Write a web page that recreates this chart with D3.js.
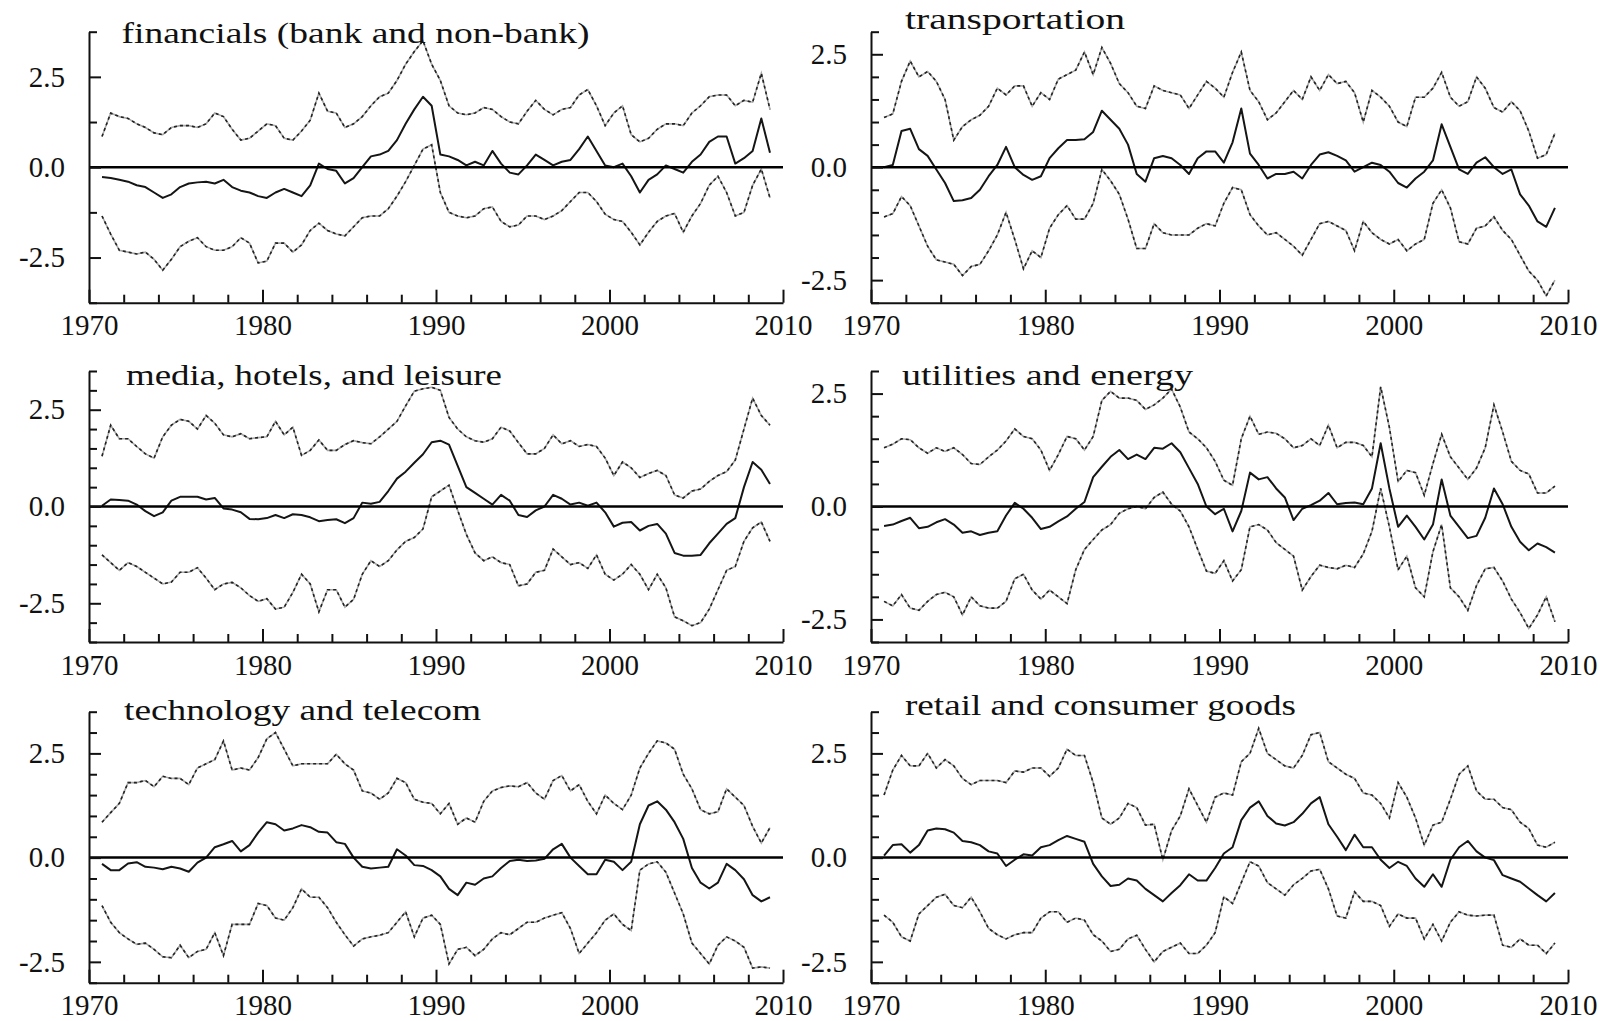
<!DOCTYPE html>
<html>
<head>
<meta charset="utf-8">
<script src="https://cdn.jsdelivr.net/npm/d3@7"></script>
<style>
  body { margin: 0; background: #fff; }
  svg { display: block; }
</style>
</head>
<body>
<div id="chart"></div>
<script>
// half-year grid, 1970.75 .. 2009.25 (78 points)
let years = d3.range(78).map(i => 1970.75 + i * 0.5)

let titles = [
  "financials (bank and non-bank)",
  "transportation",
  "media, hotels, and leisure",
  "utilities and energy",
  "technology and telecom",
  "retail and consumer goods"
]

// financials
let finMid = [
  -0.27, -0.3, -0.35, -0.4, -0.5, -0.55, -0.7, -0.85, -0.75, -0.55,
  -0.45, -0.42, -0.4, -0.45, -0.35, -0.55, -0.65, -0.7, -0.8, -0.85,
  -0.7, -0.6, -0.7, -0.8, -0.5, 0.1, -0.05, -0.1, -0.45, -0.3,
  0.0, 0.3, 0.35, 0.45, 0.75, 1.2, 1.6, 1.95, 1.7, 0.35,
  0.3, 0.2, 0.05, 0.15, 0.05, 0.45, 0.1, -0.15, -0.2, 0.05,
  0.35, 0.2, 0.05, 0.15, 0.2, 0.5, 0.85, 0.45, 0.05, 0.0,
  0.1, -0.25, -0.7, -0.35, -0.2, 0.05, -0.05, -0.15, 0.15, 0.35,
  0.7, 0.85, 0.85, 0.1, 0.25, 0.45, 1.35, 0.4]
let finUp = [
  0.85, 1.5, 1.4, 1.35, 1.2, 1.1, 0.95, 0.9, 1.1, 1.15,
  1.15, 1.1, 1.2, 1.5, 1.4, 1.05, 0.75, 0.8, 1.0, 1.2,
  1.15, 0.8, 0.75, 1.0, 1.3, 2.05, 1.55, 1.5, 1.1, 1.2,
  1.4, 1.7, 1.95, 2.05, 2.4, 2.85, 3.2, 3.5, 2.85, 2.4,
  1.7, 1.5, 1.45, 1.5, 1.65, 1.6, 1.4, 1.25, 1.2, 1.55,
  1.85, 1.6, 1.45, 1.6, 1.65, 2.0, 2.15, 1.7, 1.15, 1.5,
  1.7, 0.9, 0.7, 0.8, 1.05, 1.2, 1.2, 1.15, 1.5, 1.7,
  1.95, 2.0, 2.0, 1.7, 1.85, 1.8, 2.6, 1.6]
let finLow = [
  -1.35, -1.85, -2.3, -2.35, -2.4, -2.35, -2.55, -2.85, -2.55, -2.2,
  -2.05, -1.95, -2.2, -2.3, -2.3, -2.2, -1.95, -2.1, -2.65, -2.6,
  -2.1, -2.1, -2.35, -2.15, -1.75, -1.55, -1.75, -1.85, -1.9, -1.65,
  -1.4, -1.35, -1.35, -1.15, -0.8, -0.4, 0.05, 0.5, 0.62, -0.7,
  -1.25, -1.35, -1.4, -1.35, -1.15, -1.1, -1.5, -1.65, -1.6, -1.35,
  -1.35, -1.45, -1.35, -1.2, -0.95, -0.7, -0.7, -0.95, -1.3, -1.45,
  -1.5, -1.8, -2.15, -1.8, -1.5, -1.35, -1.28, -1.8, -1.35, -1.0,
  -0.5, -0.25, -0.7, -1.35, -1.25, -0.5, -0.05, -0.85]

// transportation
let traMid = [
  0.0, 0.05, 0.8, 0.85, 0.4, 0.25, -0.05, -0.35, -0.75, -0.73,
  -0.68, -0.5, -0.2, 0.05, 0.45, 0.0, -0.17, -0.28, -0.2, 0.2,
  0.42, 0.6, 0.6, 0.62, 0.78, 1.25, 1.05, 0.85, 0.5, -0.15,
  -0.32, 0.2, 0.25, 0.2, 0.05, -0.15, 0.2, 0.35, 0.35, 0.1,
  0.55, 1.3, 0.3, 0.05, -0.25, -0.15, -0.15, -0.1, -0.25, 0.05,
  0.28, 0.33, 0.25, 0.15, -0.1, 0.0, 0.1, 0.05, -0.1, -0.35,
  -0.45, -0.25, -0.1, 0.15, 0.95, 0.45, -0.05, -0.15, 0.1, 0.22,
  0.0, -0.15, -0.05, -0.6, -0.85, -1.2, -1.32, -0.9]
let traUp = [
  1.1, 1.18, 1.9, 2.35, 2.0, 2.12, 1.9, 1.5, 0.6, 0.9,
  1.05, 1.15, 1.35, 1.75, 1.6, 1.8, 1.8, 1.35, 1.65, 1.5,
  1.95, 2.05, 2.15, 2.55, 2.05, 2.65, 2.3, 1.85, 1.65, 1.35,
  1.3, 1.8, 1.7, 1.65, 1.6, 1.3, 1.6, 1.9, 1.75, 1.55,
  2.1, 2.55, 1.7, 1.45, 1.05, 1.2, 1.45, 1.7, 1.5, 2.0,
  1.7, 2.05, 1.85, 1.9, 1.65, 1.0, 1.7, 1.55, 1.35, 1.0,
  0.9, 1.55, 1.55, 1.75, 2.1, 1.55, 1.35, 1.45, 2.0, 1.75,
  1.32, 1.22, 1.45, 1.25, 0.8, 0.2, 0.28, 0.75]
let traLow = [
  -1.1, -1.03, -0.65, -0.85, -1.3, -1.75, -2.05, -2.1, -2.15, -2.4,
  -2.2, -2.15, -1.85, -1.5, -1.0, -1.6, -2.25, -1.85, -2.0, -1.35,
  -1.05, -0.85, -1.15, -1.15, -0.8, -0.05, -0.3, -0.6, -1.15, -1.8,
  -1.8, -1.25, -1.45, -1.5, -1.5, -1.5, -1.35, -1.25, -1.3, -0.8,
  -0.45, -0.5, -1.05, -1.3, -1.5, -1.45, -1.6, -1.75, -1.95, -1.6,
  -1.25, -1.2, -1.3, -1.4, -1.85, -1.2, -1.45, -1.6, -1.7, -1.6,
  -1.85, -1.7, -1.6, -0.8, -0.5, -0.9, -1.65, -1.7, -1.35, -1.3,
  -1.1, -1.4, -1.6, -1.95, -2.3, -2.5, -2.85, -2.5]

// media, hotels, and leisure
let medMid = [
  0.02, 0.18, 0.17, 0.15, 0.05, -0.12, -0.25, -0.15, 0.15, 0.25,
  0.25, 0.25, 0.18, 0.22, -0.05, -0.08, -0.15, -0.32, -0.33, -0.3,
  -0.22, -0.3, -0.2, -0.22, -0.28, -0.38, -0.35, -0.33, -0.43, -0.3,
  0.1, 0.07, 0.12, 0.4, 0.72, 0.9, 1.13, 1.35, 1.66, 1.7,
  1.6, 1.05, 0.5, 0.35, 0.2, 0.05, 0.3, 0.15, -0.22, -0.27,
  -0.1, 0.0, 0.3, 0.2, 0.05, 0.1, 0.02, 0.1, -0.15, -0.52,
  -0.42, -0.4, -0.62, -0.5, -0.45, -0.7, -1.2, -1.27, -1.27, -1.25,
  -0.95, -0.7, -0.45, -0.3, 0.5, 1.15, 0.95, 0.58]
let medUp = [
  1.3, 2.1, 1.75, 1.75, 1.55, 1.36, 1.25, 1.8, 2.1, 2.25,
  2.2, 2.0, 2.35, 2.15, 1.85, 1.8, 1.88, 1.75, 1.78, 1.8,
  2.2, 1.85, 2.05, 1.32, 1.45, 1.72, 1.45, 1.45, 1.6, 1.7,
  1.65, 1.62, 1.8, 2.0, 2.2, 2.6, 2.98, 3.04, 3.08, 3.0,
  2.3, 2.0, 1.8, 1.7, 1.66, 1.75, 2.05, 1.95, 1.65, 1.36,
  1.36, 1.5, 1.85, 1.62, 1.7, 1.55, 1.6, 1.55, 1.25, 0.8,
  1.15, 1.0, 0.75, 0.85, 0.93, 0.8, 0.3, 0.22, 0.4, 0.45,
  0.65, 0.8, 0.9, 1.2, 2.0, 2.8, 2.35, 2.1]
let medLow = [
  -1.25, -1.45, -1.65, -1.45, -1.55, -1.7, -1.85, -2.0, -1.95, -1.7,
  -1.7, -1.58, -1.85, -2.15, -2.0, -1.96, -2.1, -2.3, -2.45, -2.38,
  -2.65, -2.6, -2.22, -1.75, -2.0, -2.72, -2.15, -2.15, -2.6, -2.4,
  -1.75, -1.4, -1.55, -1.4, -1.12, -0.9, -0.8, -0.58, 0.25, 0.4,
  0.55, -0.1, -0.72, -1.2, -1.4, -1.3, -1.45, -1.5, -2.05, -2.0,
  -1.7, -1.65, -1.1, -1.3, -1.5, -1.45, -1.6, -1.25, -1.75, -1.9,
  -1.75, -1.5, -1.75, -2.15, -1.75, -2.1, -2.85, -2.95, -3.08, -3.0,
  -2.65, -2.15, -1.65, -1.55, -0.9, -0.55, -0.4, -0.9]

// utilities and energy
let utiMid = [
  -0.43, -0.4, -0.32, -0.25, -0.48, -0.45, -0.35, -0.28, -0.4, -0.58,
  -0.55, -0.63, -0.58, -0.55, -0.2, 0.08, -0.05, -0.25, -0.5, -0.45,
  -0.33, -0.22, -0.05, 0.1, 0.65, 0.88, 1.1, 1.25, 1.05, 1.15,
  1.05, 1.3, 1.28, 1.4, 1.2, 0.85, 0.5, 0.0, -0.17, -0.05,
  -0.55, -0.1, 0.75, 0.6, 0.65, 0.4, 0.2, -0.3, -0.05, 0.03,
  0.13, 0.3, 0.05, 0.08, 0.09, 0.05, 0.4, 1.4, 0.4, -0.45,
  -0.2, -0.45, -0.73, -0.4, 0.6, -0.2, -0.45, -0.7, -0.65, -0.25,
  0.4, 0.05, -0.45, -0.78, -0.97, -0.82, -0.9, -1.02]
let utiUp = [
  1.3, 1.38, 1.5, 1.48, 1.3, 1.18, 1.3, 1.22, 1.3, 1.15,
  0.95, 0.93, 1.1, 1.25, 1.45, 1.72, 1.55, 1.5, 1.25, 0.8,
  1.15, 1.55, 1.5, 1.25, 1.55, 2.35, 2.55, 2.4, 2.4, 2.35,
  2.15, 2.25, 2.4, 2.6, 2.2, 1.65, 1.5, 1.3, 1.0, 0.58,
  0.47, 1.5, 2.0, 1.6, 1.65, 1.62, 1.5, 1.3, 1.35, 1.5,
  1.35, 1.8, 1.3, 1.42, 1.42, 1.35, 1.1, 2.65, 1.75, 0.55,
  0.8, 0.75, 0.25, 0.95, 1.6, 1.1, 0.85, 0.6, 0.85, 1.3,
  2.25, 1.65, 1.0, 0.8, 0.72, 0.3, 0.3, 0.45]
let utiLow = [
  -2.1, -2.2, -1.95, -2.25, -2.3, -2.1, -1.95, -1.9, -2.0, -2.4,
  -2.0, -2.2, -2.25, -2.25, -2.1, -1.6, -1.5, -1.85, -2.05, -1.85,
  -2.0, -2.15, -1.4, -0.95, -0.73, -0.52, -0.4, -0.15, -0.05, 0.0,
  -0.05, 0.2, 0.32, 0.05, -0.1, -0.45, -0.95, -1.43, -1.48, -1.2,
  -1.65, -1.4, -0.45, -0.4, -0.52, -0.8, -0.95, -1.1, -1.85, -1.55,
  -1.3, -1.35, -1.38, -1.3, -1.35, -1.05, -0.55, 0.4, -0.45, -1.4,
  -1.1, -1.8, -2.0, -1.0, -0.4, -1.8, -2.0, -2.3, -1.75, -1.38,
  -1.35, -1.65, -2.05, -2.35, -2.7, -2.4, -2.0, -2.55]

// technology and telecom
let tecMid = [
  -0.15, -0.3, -0.3, -0.14, -0.11, -0.22, -0.24, -0.28, -0.22, -0.26,
  -0.34, -0.12, 0.0, 0.25, 0.32, 0.4, 0.15, 0.3, 0.6, 0.85,
  0.8, 0.65, 0.7, 0.78, 0.73, 0.62, 0.6, 0.37, 0.33, 0.0,
  -0.22, -0.26, -0.24, -0.22, 0.2, 0.05, -0.18, -0.2, -0.3, -0.45,
  -0.75, -0.9, -0.6, -0.65, -0.5, -0.45, -0.25, -0.08, -0.05, -0.08,
  -0.07, -0.03, 0.2, 0.33, 0.0, -0.2, -0.4, -0.4, -0.05, -0.1,
  -0.3, -0.1, 0.8, 1.25, 1.35, 1.15, 0.85, 0.45, -0.25, -0.6,
  -0.74, -0.6, -0.15, -0.3, -0.52, -0.9, -1.05, -0.95]
let tecUp = [
  0.85, 1.08, 1.3, 1.8, 1.8, 1.85, 1.7, 1.95, 1.9, 1.9,
  1.75, 2.15, 2.25, 2.35, 2.8, 2.1, 2.15, 2.1, 2.4, 2.85,
  3.0, 2.6, 2.2, 2.25, 2.25, 2.25, 2.25, 2.48, 2.25, 2.1,
  1.6, 1.55, 1.4, 1.55, 1.9, 1.8, 1.4, 1.33, 1.3, 1.05,
  1.3, 0.8, 0.95, 0.85, 1.35, 1.6, 1.68, 1.72, 1.7, 1.8,
  1.55, 1.4, 1.85, 1.97, 1.6, 1.75, 1.35, 1.05, 1.5, 1.3,
  1.15, 1.5, 2.15, 2.5, 2.8, 2.75, 2.6, 2.0, 1.65, 1.15,
  1.05, 1.1, 1.65, 1.45, 1.25, 0.75, 0.35, 0.72]
let tecLow = [
  -1.15, -1.55, -1.8, -1.95, -2.08, -2.05, -2.2, -2.38, -2.4, -2.1,
  -2.4, -2.25, -2.2, -1.8, -2.35, -1.6, -1.6, -1.6, -1.1, -1.15,
  -1.45, -1.5, -1.2, -0.75, -0.95, -0.95, -1.2, -1.55, -1.85, -2.12,
  -1.95, -1.9, -1.86, -1.8, -1.55, -1.3, -1.9, -1.45, -1.38, -1.6,
  -2.55, -2.2, -2.15, -2.35, -2.2, -1.95, -1.8, -1.85, -1.7, -1.55,
  -1.55, -1.45, -1.38, -1.32, -1.7, -2.3, -2.05, -1.8, -1.5, -1.35,
  -1.6, -1.75, -0.3, -0.15, -0.1, -0.35, -0.85, -1.35, -2.05, -2.3,
  -2.55, -2.1, -1.9, -2.0, -2.15, -2.65, -2.62, -2.65]

// retail and consumer goods
let retMid = [
  0.05, 0.3, 0.32, 0.12, 0.3, 0.65, 0.7, 0.68, 0.6, 0.4,
  0.37, 0.3, 0.15, 0.1, -0.2, -0.05, 0.08, 0.05, 0.25, 0.3,
  0.42, 0.52, 0.45, 0.38, -0.15, -0.45, -0.68, -0.65, -0.5, -0.55,
  -0.75, -0.9, -1.05, -0.85, -0.66, -0.4, -0.55, -0.55, -0.25, 0.1,
  0.25, 0.9, 1.2, 1.35, 1.0, 0.82, 0.77, 0.85, 1.05, 1.3,
  1.45, 0.8, 0.5, 0.18, 0.55, 0.25, 0.25, -0.05, -0.25, -0.1,
  -0.2, -0.5, -0.7, -0.4, -0.7, -0.05, 0.25, 0.4, 0.15, 0.0,
  -0.06, -0.42, -0.5, -0.58, -0.74, -0.9, -1.05, -0.85]
let retUp = [
  1.5, 2.1, 2.45, 2.2, 2.2, 2.5, 2.15, 2.35, 2.2, 1.9,
  1.75, 1.85, 1.85, 1.85, 1.8, 2.08, 2.05, 2.15, 2.15, 1.95,
  2.15, 2.6, 2.45, 2.45, 1.8, 0.95, 0.8, 0.95, 1.3, 1.2,
  0.78, 0.8, -0.05, 0.65, 1.0, 1.65, 1.25, 0.85, 1.45, 1.55,
  1.5, 2.3, 2.5, 3.1, 2.5, 2.35, 2.2, 2.15, 2.45, 2.95,
  3.0, 2.3, 2.15, 2.0, 1.9, 1.55, 1.5, 1.3, 0.95, 1.8,
  1.45, 0.95, 0.3, 0.78, 0.85, 1.4, 2.0, 2.2, 1.6, 1.4,
  1.4, 1.2, 1.15, 0.85, 0.7, 0.3, 0.25, 0.37]
let retLow = [
  -1.38, -1.55, -1.9, -2.0, -1.35, -1.15, -0.95, -0.88, -1.15, -1.2,
  -0.95, -1.3, -1.7, -1.85, -1.95, -1.85, -1.8, -1.8, -1.45, -1.3,
  -1.3, -1.55, -1.45, -1.5, -1.85, -2.0, -2.25, -2.2, -1.95, -1.86,
  -2.2, -2.5, -2.25, -2.15, -2.05, -2.3, -2.3, -2.1, -1.8, -0.94,
  -1.1, -0.6, -0.1, -0.2, -0.6, -0.75, -0.9, -0.65, -0.5, -0.32,
  -0.28, -0.75, -1.4, -1.45, -0.82, -1.05, -1.05, -1.15, -1.65, -1.35,
  -1.45, -1.45, -1.95, -1.6, -2.0, -1.55, -1.3, -1.38, -1.4, -1.38,
  -1.38, -2.1, -2.15, -1.95, -2.1, -2.1, -2.3, -2.05]

let yDomains = [[-3.75, 3.75], [-3, 3], [-3.5, 3.5], [-3, 3], [-3, 3.5], [-3, 3.5]]
let yTickSteps = [1.25, 0.5, 0.5, 0.5, 0.5, 0.5]
let yLabelTicks = [-2.5, 0, 2.5]
let xLabelTicks = [1970, 1980, 1990, 2000, 2010]

let panels = [
  {mid: finMid, up: finUp, low: finLow},
  {mid: traMid, up: traUp, low: traLow},
  {mid: medMid, up: medUp, low: medLow},
  {mid: utiMid, up: utiUp, low: utiLow},
  {mid: tecMid, up: tecUp, low: tecLow},
  {mid: retMid, up: retUp, low: retLow}
]

// layout
let width = 1606, height = 1021
let colX = [89, 871], colW = [694, 697]
let rowY = [31.7, 371, 711.7], plotH = 271
// [x, baseline, width] of each panel title
let titlePos = [[121.5, 43, 468], [905, 29, 220], [126, 385, 376], [902, 385, 291], [124, 720, 357], [905, 715, 391]]
let font = "'Liberation Serif', 'Times New Roman', serif"

let svg = d3.select("#chart")
  .append("svg")
    .attr("width", width)
    .attr("height", height)
svg.append("rect").attr("width", width).attr("height", height).attr("fill", "#fff")

panels.forEach((p, i) => {
  ["mid", "up", "low"].forEach(k => {
    if (p[k].length != years.length) console.error("panel " + i + " " + k + " has " + p[k].length + " values")
  })
  drawPanel(p, i)
})

function drawPanel(p, i) {
  let col = i % 2, row = Math.floor(i / 2)
  let w = colW[col], h = plotH
  let g = svg.append("g")
    .attr("transform", "translate(" + colX[col] + "," + rowY[row] + ")")

  let x = d3.scaleLinear().domain([1970, 2010]).range([0, w])
  let y = d3.scaleLinear().domain(yDomains[i]).range([h, 0])

  let line = d3.line()
    .x((d, j) => x(years[j]))
    .y(d => y(d))

  // bands: light grey under black dashes
  ;[p.up, p.low].forEach(s => {
    g.append("path").datum(s)
      .attr("d", line)
      .attr("fill", "none")
      .attr("stroke", "#a8a8a8")
      .attr("stroke-width", 1.6)
    g.append("path").datum(s)
      .attr("d", line)
      .attr("fill", "none")
      .attr("stroke", "#222")
      .attr("stroke-width", 1.6)
      .attr("stroke-dasharray", "3,3")
  })

  g.append("path").datum(p.mid)
    .attr("d", line)
    .attr("fill", "none")
    .attr("stroke", "#151515")
    .attr("stroke-width", 2)
    .attr("stroke-linejoin", "round")

  g.append("line")
    .attr("x1", x(1970)).attr("x2", x(2010))
    .attr("y1", y(0)).attr("y2", y(0))
    .attr("stroke", "#000")
    .attr("stroke-width", 2.5)

  // y axis: minor ticks, then labelled ticks
  let yAll = d3.range(yDomains[i][0], yDomains[i][1] + 1e-6, yTickSteps[i])
  let yMinor = yAll.filter(v => yLabelTicks.indexOf(v) < 0)
  g.append("g")
    .call(d3.axisLeft(y).tickValues(yMinor).tickSizeInner(-8).tickSizeOuter(0).tickFormat(""))
    .call(a => a.select(".domain").remove())
  g.append("g")
    .call(d3.axisLeft(y).tickValues(yLabelTicks).tickSizeInner(-12).tickSizeOuter(0)
      .tickPadding(24).tickFormat(d => d.toFixed(1)))

  // x axis
  let xMinor = d3.range(1972, 2010, 2).filter(v => v % 10 != 0)
  g.append("g")
    .attr("transform", "translate(0," + h + ")")
    .call(d3.axisBottom(x).tickValues(xMinor).tickSizeInner(-8).tickSizeOuter(0).tickFormat(""))
    .call(a => a.select(".domain").remove())
  g.append("g")
    .attr("transform", "translate(0," + h + ")")
    .call(d3.axisBottom(x).tickValues(xLabelTicks).tickSizeInner(-13).tickSizeOuter(0)
      .tickPadding(12).tickFormat(d3.format("d")))

  g.selectAll(".domain, .tick line")
    .attr("stroke", "#111")
    .attr("stroke-width", 2)
  g.selectAll(".tick text")
    .attr("font-family", font)
    .attr("font-size", 29)
    .attr("fill", "#111")

  svg.append("text")
    .attr("x", titlePos[i][0])
    .attr("y", titlePos[i][1])
    .attr("textLength", titlePos[i][2])
    .attr("lengthAdjust", "spacingAndGlyphs")
    .attr("font-family", font)
    .attr("font-size", 29)
    .attr("fill", "#111")
    .text(titles[i])
}
</script>
</body>
</html>
